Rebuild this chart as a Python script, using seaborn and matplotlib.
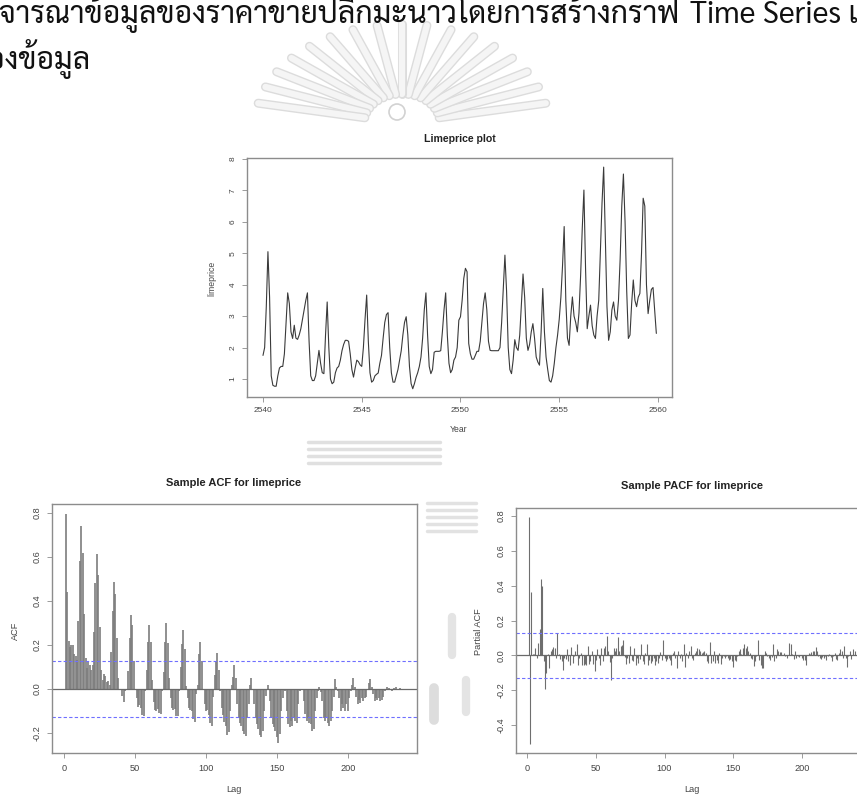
import numpy as np
import pandas as pd
import matplotlib
matplotlib.use("Agg")
import matplotlib.pyplot as plt
import seaborn as sns

# ---------------- data ----------------
start_year = 2540
price = [
    1.75, 2.0, 3.3, 5.05, 3.6, 1.1, 0.8, 0.77, 0.77, 1.1, 1.35, 1.4,
    1.4, 1.8, 2.8, 3.74, 3.4, 2.5, 2.29, 2.71, 2.3, 2.26, 2.4, 2.6,
    2.9, 3.2, 3.5, 3.74, 2.2, 1.1, 0.95, 0.95, 1.1, 1.5, 1.91, 1.5,
    1.2, 1.17, 2.4, 3.45, 2.0, 1.0, 0.85, 0.9, 1.2, 1.35, 1.4, 1.6,
    1.9, 2.1, 2.23, 2.23, 2.2, 1.8, 1.3, 1.06, 1.35, 1.6, 1.55, 1.45,
    1.4, 2.0, 2.9, 3.67, 2.2, 1.2, 0.9, 0.95, 1.1, 1.15, 1.19, 1.5,
    1.75, 2.3, 2.8, 3.05, 3.11, 2.0, 1.2, 0.9, 0.9, 1.1, 1.3, 1.6,
    1.9, 2.4, 2.8, 2.98, 2.4, 1.4, 0.85, 0.69, 0.85, 1.05, 1.2, 1.4,
    1.7, 2.3, 3.2, 3.74, 2.4, 1.4, 1.17, 1.3, 1.85, 1.88, 1.88, 1.88,
    1.9, 2.5, 3.2, 3.74, 2.4, 1.5, 1.2, 1.3, 1.6, 1.7, 2.0, 2.87,
    2.98, 3.5, 4.2, 4.52, 4.41, 2.13, 1.8, 1.63, 1.63, 1.75, 1.88, 1.88,
    2.2, 2.8, 3.4, 3.74, 3.2, 2.2, 1.91, 1.9, 1.9, 1.9, 1.9, 1.9,
    2.0, 2.8, 3.9, 4.94, 3.8, 2.0, 1.3, 1.17, 1.6, 2.25, 2.0, 1.91,
    2.4, 3.4, 4.34, 3.6, 2.3, 1.91, 2.1, 2.5, 2.76, 2.3, 1.7, 1.54,
    1.44, 2.5, 3.88, 2.5, 1.7, 1.3, 0.95, 0.9, 1.1, 1.5, 2.0, 2.4,
    2.9, 3.6, 4.6, 5.85, 3.5, 2.3, 2.07, 3.0, 3.61, 3.0, 2.8, 2.5,
    3.1, 4.3, 5.8, 7.01, 4.5, 2.6, 3.0, 3.35, 2.7, 2.4, 2.29, 3.0,
    3.5, 5.0, 6.6, 7.74, 5.5, 3.3, 2.23, 2.5, 3.2, 3.45, 3.0, 2.87,
    3.5, 4.8, 6.5, 7.52, 6.0, 3.8, 2.29, 2.4, 3.4, 4.15, 3.5, 3.3,
    3.6, 3.72, 5.0, 6.75, 6.5, 4.0, 3.08, 3.5, 3.85, 3.91, 3.2, 2.45,
]
year_ticks = [2540, 2545, 2550, 2555, 2560]
price_ticks = [1, 2, 3, 4, 5, 6, 7, 8]

acf_vals = [
    0.795, 0.44, 0.22, 0.19, 0.20, 0.20, 0.16, 0.15, 0.13, 0.31, 0.58, 0.74,
    0.62, 0.34, 0.14, 0.095, 0.125, 0.11, 0.085, 0.11, 0.26, 0.48, 0.615, 0.52,
    0.28, 0.085, 0.04, 0.07, 0.06, 0.03, 0.035, 0.02, 0.17, 0.355, 0.485, 0.43,
    0.23, 0.05, -0.005, 0.0, -0.03, -0.06, -0.01, 0.0, 0.08, 0.23, 0.335, 0.29,
    0.125, 0.0, -0.04, -0.08, -0.075, -0.085, -0.12, -0.125, -0.01, 0.085, 0.215, 0.29,
    0.215, 0.04, -0.06, -0.095, -0.10, -0.09, -0.11, -0.115, -0.01, 0.075, 0.215, 0.30,
    0.21, 0.05, -0.04, -0.085, -0.095, -0.09, -0.125, -0.125, -0.01, 0.10, 0.205, 0.27,
    0.18, 0.015, -0.04, -0.085, -0.095, -0.10, -0.135, -0.15, -0.025, 0.02, 0.16, 0.215,
    0.125, -0.005, -0.07, -0.10, -0.095, -0.12, -0.155, -0.17, -0.035, 0.065, 0.125, 0.165,
    0.085, -0.01, -0.085, -0.12, -0.15, -0.17, -0.21, -0.195, -0.10, 0.02, 0.055, 0.11,
    0.05, -0.07, -0.13, -0.155, -0.17, -0.19, -0.205, -0.215, -0.13, -0.07, 0.02, 0.05,
    -0.005, -0.07, -0.13, -0.16, -0.18, -0.21, -0.22, -0.19, -0.10, -0.03, -0.005, 0.02,
    -0.055, -0.13, -0.16, -0.175, -0.19, -0.22, -0.245, -0.205, -0.10, -0.04, -0.005, -0.01,
    -0.10, -0.16, -0.175, -0.145, -0.17, -0.13, -0.145, -0.155, -0.07, -0.01, -0.005, 0.0,
    -0.055, -0.115, -0.145, -0.13, -0.155, -0.16, -0.19, -0.18, -0.10, -0.04, -0.01, 0.01,
    -0.015, -0.055, -0.13, -0.145, -0.13, -0.155, -0.17, -0.145, -0.10, -0.035, 0.045, 0.01,
    -0.01, -0.04, -0.10, -0.07, -0.085, -0.10, -0.07, -0.10, -0.04, -0.01, 0.02, 0.05,
    0.01, -0.035, -0.07, -0.05, -0.065, -0.04, -0.055, -0.04, -0.035, -0.005, 0.025, 0.045,
    0.01, -0.025, -0.055, -0.04, -0.05, -0.04, -0.055, -0.05, -0.035, -0.01, -0.005, 0.01,
    0.005, -0.005, -0.01, -0.005, 0.005, 0.008, 0.0, 0.0, 0.003, -0.002, 0.002, 0.0,
]

pacf_vals = [
    0.795, -0.51, 0.365, 0.005, 0.01, 0.04, -0.015, 0.07, 0.15, 0.44, 0.40, -0.035,
    -0.195, -0.10, 0.008, -0.075, 0.025, 0.035, 0.05, 0.04, -0.015, 0.13, 0.008, -0.02,
    -0.035, -0.085, -0.015, -0.02, 0.035, -0.035, -0.055, 0.045, -0.045, -0.005, 0.025, 0.065,
    -0.055, -0.015, 0.015, -0.058, -0.058, -0.05, -0.055, 0.052, -0.05, -0.035, 0.025, -0.05,
    -0.088, -0.025, 0.035, -0.015, -0.055, 0.04, -0.035, 0.042, 0.052, 0.11, 0.027, -0.038,
    -0.14, -0.015, 0.04, 0.025, 0.04, 0.105, 0.023, 0.052, 0.06, 0.085, -0.01, -0.05,
    -0.015, -0.045, 0.052, -0.025, -0.035, 0.042, -0.055, -0.015, -0.045, -0.02, 0.065, -0.035,
    -0.05, 0.015, 0.065, -0.055, -0.03, -0.045, -0.035, -0.015, -0.055, -0.035, -0.045, -0.015,
    0.02, -0.03, 0.085, -0.015, -0.035, -0.02, -0.015, -0.025, -0.055, 0.013, 0.022, -0.015,
    -0.075, 0.027, -0.015, 0.008, -0.035, 0.062, -0.065, 0.013, -0.015, 0.025, 0.052, -0.015,
    -0.025, 0.013, 0.025, 0.04, 0.035, 0.025, 0.013, 0.02, 0.022, 0.013, -0.035, -0.045,
    0.077, -0.045, -0.035, 0.027, -0.045, -0.025, -0.045, 0.013, -0.05, -0.015, -0.005, -0.015,
    -0.005, -0.015, -0.025, -0.02, -0.035, -0.07, -0.025, -0.035, -0.005, 0.025, 0.035, 0.008,
    0.042, 0.062, 0.04, 0.052, 0.025, 0.013, -0.015, -0.02, -0.063, -0.035, -0.005, 0.09,
    -0.03, -0.055, -0.075, -0.075, 0.025, 0.013, -0.005, -0.015, -0.025, -0.01, 0.062, -0.035,
    -0.015, 0.035, 0.025, 0.02, 0.018, 0.004, 0.013, -0.005, -0.015, 0.004, 0.072, 0.065,
    0.008, -0.02, 0.027, -0.015, -0.005, -0.01, 0.0, -0.015, -0.025, -0.03, -0.055, 0.004,
    0.013, 0.008, 0.02, 0.025, 0.025, 0.045, 0.025, -0.005, -0.015, -0.02, -0.01, -0.015,
    -0.005, -0.025, -0.005, 0.008, -0.01, -0.035, -0.005, 0.013, -0.02, -0.025, 0.013, 0.035,
    0.025, -0.015, 0.052, -0.015, -0.07, -0.005, 0.027, -0.02, 0.035, 0.004, 0.025, -0.005,
]
lag_ticks = [0, 50, 100, 150, 200]
acf_ticks = [-0.2, 0.0, 0.2, 0.4, 0.6, 0.8]
pacf_ticks = [-0.4, -0.2, 0.0, 0.2, 0.4, 0.6, 0.8]
acf_limit = 0.1265
pacf_limit = 0.129

thai_line1 = "พิจารณาข้อมูลของราคาขายปลีกมะนาวโดยการสร้างกราฟ"
latin_line1 = "Time Series เพื่อดู"
thai_line2 = "ของข้อมูล"

# ---------------- style ----------------
sns.set_theme(style="white")
plt.rcParams['font.family'] = ['Liberation Sans', 'DejaVu Sans']
thai_family = ['Sarabun', 'Noto Sans Thai', 'DejaVu Sans']

W, H = 857, 795
fig = plt.figure(figsize=(W / 100, H / 100), dpi=100)
fig.patch.set_facecolor('white')


def box(x0, y0, x1, y1):
    return [x0 / W, 1 - y1 / H, (x1 - x0) / W, (y1 - y0) / H]


def fx(x):
    return x / W


def fy(y):
    return 1 - y / H


def style(ax, fs, xpad, ypad):
    for s in ax.spines.values():
        s.set_visible(True)
        s.set_color('#8c8c8c')
        s.set_linewidth(1.0)
    ax.tick_params(axis='both', direction='out', length=3.5, width=0.6,
                   color='#8c8c8c', labelsize=fs, labelcolor='#444444',
                   bottom=True, left=True)
    ax.tick_params(axis='x', pad=xpad)
    ax.tick_params(axis='y', pad=ypad, labelrotation=90)
    for lab in ax.get_yticklabels():
        lab.set_va('center')
    ax.set_xlabel('')
    ax.set_ylabel('')


# ---------------- faint watermark (page background decoration) ----------------
wm = fig.add_axes([0, 0, 1, 1], zorder=-5)
wm.set_xlim(0, W)
wm.set_ylim(H, 0)
wm.axis('off')
cx, cy = 402, 124
for ang in np.linspace(12, 168, 17):
    a = np.deg2rad(ang)
    ca, sa = np.cos(a), np.sin(a)
    xs = [cx + 38 * ca, cx + 150 * ca * 0.98]
    ys = [cy - 30 * sa, cy - 100 * sa]
    wm.plot(xs, ys, color='#dcdcdc', linewidth=6.5, solid_capstyle='round')
    wm.plot(xs, ys, color='#f5f5f5', linewidth=4.5, solid_capstyle='round')
wm.add_patch(plt.Circle((397, 112), 8, fill=False, edgecolor='#d2d2d2', linewidth=1.2))
for yy in (442, 449, 456, 463):
    wm.plot([308, 440], [yy, yy], color='#e0e0e0', linewidth=2.5)
for yy in (503, 510, 517, 524, 531):
    wm.plot([427, 476], [yy, yy], color='#e2e2e2', linewidth=2.5)
wm.plot([434, 434], [688, 720], color='#dddddd', linewidth=7)
wm.plot([452, 452], [617, 655], color='#e4e4e4', linewidth=6)
wm.plot([466, 466], [680, 712], color='#e4e4e4', linewidth=6)

# ---------------- top: time series ----------------
ax1 = fig.add_axes(box(247, 158, 672, 397))
df = pd.DataFrame({'year': start_year + np.arange(len(price)) / 12.0,
                   'price': price})
sns.lineplot(data=df, x='year', y='price', ax=ax1, color='#3a3a3a', linewidth=0.8)
ax1.set_xlim(2539.19, 2560.71)
ax1.set_ylim(0.427, 8.03)
ax1.set_xticks(year_ticks)
ax1.set_yticks(price_ticks)
ax1.set_xticklabels([str(v) for v in year_ticks])
ax1.set_yticklabels([str(v) for v in price_ticks])
style(ax1, 6, 3.5, 4)
fig.text(fx(460), fy(139), 'Limeprice plot', ha='center', va='center',
         fontsize=7.6, fontweight='bold', color='#222222')
fig.text(fx(459), fy(430), 'Year', ha='center', va='center', fontsize=6.2, color='#444444')
fig.text(fx(212), fy(278), 'limeprice', ha='center', va='center', rotation=90,
         fontsize=6.2, color='#444444')

# ---------------- ACF ----------------
lags = np.arange(1, len(acf_vals) + 1)
ax2 = fig.add_axes(box(52, 504, 417, 753))
ax2.vlines(lags, 0, acf_vals, color='#7d7d7d', linewidth=1.2)
ax2.axhline(0, color='#6a6a6a', linewidth=0.9)
for v in (acf_limit, -acf_limit):
    ax2.axhline(v, color='#6f6fff', linewidth=0.8, linestyle=(0, (3, 2)))
ax2.set_xlim(-8.7, 248.9)
ax2.set_ylim(-0.291, 0.841)
ax2.set_xticks(lag_ticks)
ax2.set_yticks(acf_ticks)
ax2.set_xticklabels([str(v) for v in lag_ticks])
ax2.set_yticklabels([f'{v:.1f}' for v in acf_ticks])
style(ax2, 6.6, 4.3, 4)
fig.text(fx(234), fy(483), 'Sample ACF for limeprice', ha='center', va='center',
         fontsize=8, fontweight='bold', color='#222222')
fig.text(fx(234), fy(790), 'Lag', ha='center', va='center', fontsize=6.6, color='#444444')
fig.text(fx(15), fy(631), 'ACF', ha='center', va='center', rotation=90,
         fontsize=6.6, color='#444444')

# ---------------- PACF ----------------
plags = np.arange(1, len(pacf_vals) + 1)
ax3 = fig.add_axes(box(516, 508, 870, 753))
ax3.vlines(plags, 0, pacf_vals, color='#6e6e6e', linewidth=0.8)
ax3.axhline(0, color='#6a6a6a', linewidth=0.9)
for v in (pacf_limit, -pacf_limit):
    ax3.axhline(v, color='#6f6fff', linewidth=0.8, linestyle=(0, (3, 2)))
ax3.set_xlim(-8.2, 249.7)
ax3.set_ylim(-0.562, 0.847)
ax3.set_xticks(lag_ticks)
ax3.set_yticks(pacf_ticks)
ax3.set_xticklabels([str(v) for v in lag_ticks])
ax3.set_yticklabels([f'{v:.1f}' for v in pacf_ticks])
style(ax3, 6.6, 4.3, 4)
fig.text(fx(692), fy(486), 'Sample PACF for limeprice', ha='center', va='center',
         fontsize=8, fontweight='bold', color='#222222')
fig.text(fx(692), fy(789), 'Lag', ha='center', va='center', fontsize=6.6, color='#444444')
fig.text(fx(478), fy(632), 'Partial ACF', ha='center', va='center', rotation=90,
         fontsize=6.6, color='#444444')

# ---------------- document text ----------------
fig.text(fx(680), fy(23), thai_line1, ha='right', va='baseline', fontsize=21.8,
         family=thai_family, color='#111111')
fig.text(fx(690), fy(23), latin_line1, ha='left', va='baseline', fontsize=21.8,
         family=thai_family, color='#111111')
fig.text(fx(91), fy(69), thai_line2, ha='right', va='baseline', fontsize=21.8,
         family=thai_family, color='#111111')

fig.savefig('out.png', dpi=100)
